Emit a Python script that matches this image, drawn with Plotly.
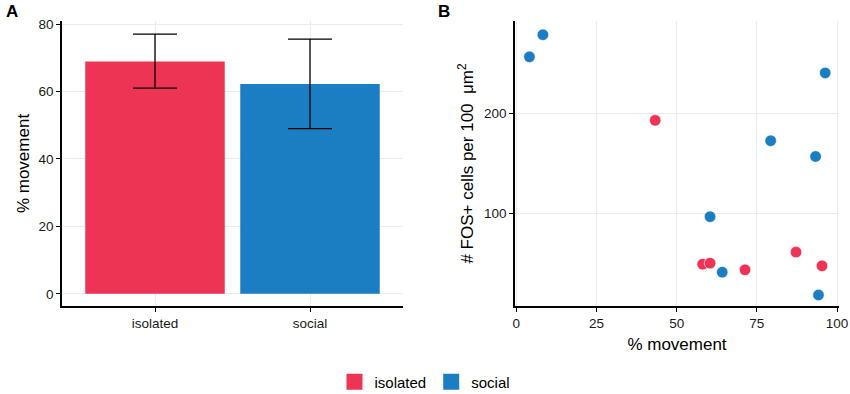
import plotly.graph_objects as go

groups = ["isolated", "social"]
mean_movement = [68.9, 62.2]
err_upper = [77.0, 75.5]
err_lower = [61.0, 49.0]

iso_movement = [43.3, 58.1, 60.4, 71.3, 87.2, 95.3]
iso_fos = [192.7, 49.4, 50.4, 43.7, 61.4, 47.7]
soc_movement = [4.1, 8.3, 96.3, 79.3, 93.3, 60.4, 64.2, 94.2]
soc_fos = [256.0, 278.0, 240.0, 172.4, 156.7, 96.7, 41.4, 18.7]

colors = {"isolated": "#EE3455", "social": "#1B7EC3"}
FONT = "Liberation Sans, Arial, sans-serif"
W, H = 850, 394

fig = go.Figure()

for i, g in enumerate(groups):
    fig.add_trace(go.Bar(
        x=[g], y=[mean_movement[i]], width=0.9,
        marker=dict(color=colors[g], line=dict(width=0)),
        error_y=dict(type="data", symmetric=False,
                     array=[err_upper[i] - mean_movement[i]],
                     arrayminus=[mean_movement[i] - err_lower[i]],
                     color="black", thickness=1.3, width=22),
        showlegend=False, xaxis="x", yaxis="y", hoverinfo="skip"))

for g, xs, ys in [("isolated", iso_movement, iso_fos), ("social", soc_movement, soc_fos)]:
    fig.add_trace(go.Scatter(
        x=xs, y=ys, mode="markers", name=g,
        marker=dict(color=colors[g], size=11.5, symbol="circle",
                    line=dict(color="white", width=0.6)),
        showlegend=False, xaxis="x2", yaxis="y2"))

# legend entries
for g in groups:
    fig.add_trace(go.Scatter(
        x=[None], y=[None], mode="markers", name=g,
        marker=dict(color=colors[g], size=16, symbol="square"),
        xaxis="x2", yaxis="y2", showlegend=True))

ydom = [1 - 306 / H, 1 - 21 / H]
axis_common = dict(showline=True, linecolor="black", linewidth=1.5,
                   ticks="outside", tickcolor="black", ticklen=4, tickwidth=1.2,
                   gridcolor="#EBEBEB", gridwidth=1, zeroline=False, automargin=False,
                   tickfont=dict(family=FONT, size=13.5, color="#1a1a1a"),
                   title_font=dict(family=FONT, size=17, color="black"))

fig.update_layout(
    width=W, height=H,
    margin=dict(l=0, r=0, t=0, b=0, autoexpand=False),
    paper_bgcolor="white", plot_bgcolor="white",
    font=dict(family=FONT, color="black"),
    bargap=0.1,
    xaxis=dict(domain=[62 / W, 403 / W], range=[-0.6, 1.6], anchor="y",
               showgrid=True, **axis_common),
    yaxis=dict(domain=ydom, range=[-3.6, 80.9], anchor="x",
               tickvals=[0, 20, 40, 60, 80], showgrid=True,
               title=dict(text="% movement", standoff=5), **axis_common),
    xaxis2=dict(domain=[515 / W, 839 / W], range=[-0.4, 100.6], anchor="y2",
                tickvals=[0, 25, 50, 75, 100], showgrid=True,
                title=dict(text="% movement", standoff=8), **axis_common),
    yaxis2=dict(domain=ydom, range=[7.7, 291.7], anchor="x2",
                tickvals=[100, 200], showgrid=True,
                title=dict(text="# FOS+ cells per 100  μm<sup>2</sup>", standoff=6),
                **axis_common),
    legend=dict(orientation="h", x=0.5, xanchor="center", y=12 / H, yanchor="middle",
                font=dict(family=FONT, size=15, color="black"),
                itemwidth=30, tracegroupgap=0, bgcolor="rgba(0,0,0,0)"),
    annotations=[
        dict(text="<b>A</b>", x=4 / W, y=1 - 11 / H, xref="paper", yref="paper",
             xanchor="left", yanchor="middle", showarrow=False,
             font=dict(family=FONT, size=17, color="black")),
        dict(text="<b>B</b>", x=436 / W, y=1 - 11 / H, xref="paper", yref="paper",
             xanchor="left", yanchor="middle", showarrow=False,
             font=dict(family=FONT, size=17, color="black")),
    ],
)

fig.write_html("out.html", config={"displayModeBar": False},
               post_script="document.body.style.margin='0';")
